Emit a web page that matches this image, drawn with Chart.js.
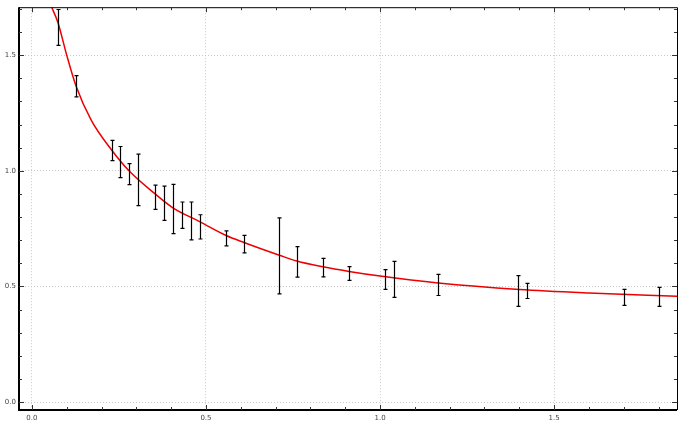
<!DOCTYPE html>
<html><head><meta charset="utf-8">
<script src="https://cdn.jsdelivr.net/npm/chart.js@4/dist/chart.umd.min.js"></script>
<style>html,body{margin:0;background:#fff}</style>
</head><body><canvas id="c" width="680" height="445" style="width:680px;height:445px"></canvas>
<script>
const xs   = [0.075,0.126,0.229,0.253,0.279,0.305,0.354,0.380,0.405,0.431,0.457,0.482,0.558,0.609,0.711,0.761,0.836,0.911,1.014,1.040,1.167,1.397,1.422,1.701,1.802];
const hi   = [1.697,1.411,1.131,1.105,1.031,1.072,0.938,0.934,0.941,0.865,0.865,0.810,0.740,0.721,0.796,0.672,0.621,0.586,0.573,0.608,0.552,0.547,0.513,0.487,0.496];
const lo   = [1.542,1.319,1.044,0.970,0.940,0.849,0.833,0.786,0.728,0.751,0.701,0.705,0.675,0.645,0.468,0.540,0.541,0.526,0.487,0.453,0.461,0.414,0.448,0.418,0.414];
const fitX = [0.057,0.075,0.10,0.126,0.17,0.229,0.279,0.354,0.405,0.482,0.558,0.609,0.711,0.761,0.836,0.911,1.0,1.167,1.4,1.6,1.853];
const fitY = [1.707,1.64,1.50,1.37,1.22,1.09,1.00,0.90,0.84,0.78,0.72,0.69,0.635,0.61,0.585,0.565,0.545,0.515,0.487,0.472,0.458];
const majorTicks = [0,0.5,1.0,1.5];

const near = (v,m)=>Math.abs(v/m-Math.round(v/m))<1e-6;
const plug = {id:'extra', afterDatasetsDraw(ch){
  const c=ch.ctx, x=ch.scales.x, y=ch.scales.y, a=ch.chartArea;
  c.save();
  c.strokeStyle='#000'; c.lineWidth=1.2;
  xs.forEach((v,i)=>{const px=Math.round(x.getPixelForValue(v))+0.5, t=y.getPixelForValue(hi[i]), b=y.getPixelForValue(lo[i]);
    c.beginPath(); c.moveTo(px,t); c.lineTo(px,b); c.moveTo(px-2,t); c.lineTo(px+2,t); c.moveTo(px-2,b); c.lineTo(px+2,b); c.stroke();});
  c.strokeStyle='#000';
  c.lineWidth=2; c.beginPath(); c.moveTo(a.left,a.top); c.lineTo(a.left,a.bottom); c.lineTo(a.right,a.bottom); c.stroke();
  c.lineWidth=1; c.beginPath(); c.moveTo(a.left,a.top+0.5); c.lineTo(a.right+0.5,a.top+0.5); c.lineTo(a.right+0.5,a.bottom); c.stroke();
  c.strokeStyle='#333'; c.lineWidth=1;
  for(let k=0;k<=18;k++){const v=k/10, px=Math.round(x.getPixelForValue(v))+0.5, L=near(v,0.5)?5:3;
    c.beginPath(); c.moveTo(px,a.bottom); c.lineTo(px,a.bottom-L); c.moveTo(px,a.top); c.lineTo(px,a.top+L); c.stroke();}
  for(let k=0;k<=17;k++){const v=k/10, py=Math.round(y.getPixelForValue(v))+0.5, L=near(v,0.5)?5:3;
    c.beginPath(); c.moveTo(a.left,py); c.lineTo(a.left+L,py); c.moveTo(a.right,py); c.lineTo(a.right-L,py); c.stroke();}
  c.restore();
}};
const gridCfg = {drawTicks:false, color:'#bbb', lineWidth:0.8};
new Chart(document.getElementById('c'),{
  type:'scatter',
  data:{datasets:[{data:fitX.map((v,i)=>({x:v,y:fitY[i]})), showLine:true, borderColor:'#ee0000', borderWidth:1.5, pointRadius:0, cubicInterpolationMode:'monotone'}]},
  options:{responsive:false, animation:false, devicePixelRatio:1,
    layout:{padding:{top:6,right:3,left:0,bottom:0}},
    plugins:{legend:{display:false},tooltip:{enabled:false}},
    scales:{
      x:{type:'linear',min:-0.037,max:1.853,afterBuildTicks:s=>{s.ticks=majorTicks.map(v=>({value:v}))},
        grid:{...gridCfg}, border:{display:false, dash:[1,2]},
        ticks:{padding:4,font:{size:7,family:'DejaVu Sans'},color:'#444',callback:v=>v.toFixed(1),maxRotation:0},
        afterFit:s=>{s.height=35}},
      y:{type:'linear',min:-0.034,max:1.707,afterBuildTicks:s=>{s.ticks=majorTicks.map(v=>({value:v}))},
        grid:{...gridCfg}, border:{display:false, dash:[1,2]},
        ticks:{padding:3,font:{size:7,family:'DejaVu Sans'},color:'#444',callback:v=>v.toFixed(1)},
        afterFit:s=>{s.width=19}}
    }},
  plugins:[plug]
});
</script></body></html>
